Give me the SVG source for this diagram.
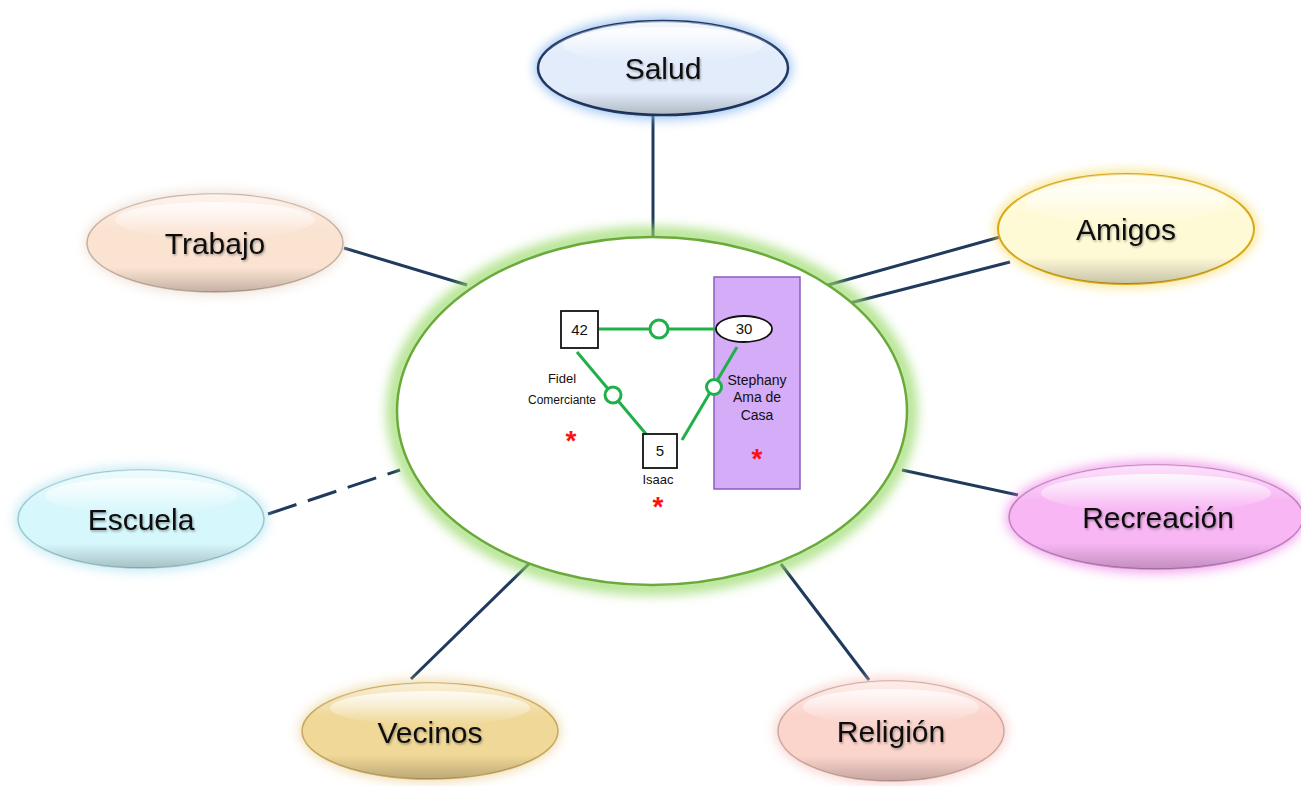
<svg xmlns="http://www.w3.org/2000/svg" width="1301" height="786" viewBox="0 0 1301 786">
<defs>
<filter id="glow" x="-20%" y="-30%" width="140%" height="160%"><feGaussianBlur stdDeviation="6"/></filter>
<filter id="ts" x="-10%" y="-10%" width="120%" height="130%"><feDropShadow dx="1" dy="1.5" stdDeviation="1" flood-color="#000" flood-opacity="0.35"/></filter>
<linearGradient id="shade" x1="0" y1="0" x2="0" y2="1">
<stop offset="0" stop-color="#fff" stop-opacity="0.6"/>
<stop offset="0.35" stop-color="#fff" stop-opacity="0"/>
<stop offset="0.75" stop-color="#000" stop-opacity="0"/>
<stop offset="1" stop-color="#000" stop-opacity="0.22"/>
</linearGradient>
<linearGradient id="hl" x1="0" y1="0" x2="0" y2="1">
<stop offset="0" stop-color="#fff" stop-opacity="0.8"/>
<stop offset="1" stop-color="#fff" stop-opacity="0"/>
</linearGradient>
</defs>
<style>
.lbl{font-family:"Liberation Sans",Arial,sans-serif;font-size:30px;fill:#111;text-anchor:middle}
.con{stroke:#1f3a5c;stroke-width:3;fill:none}
.g{stroke:#1fb04a;stroke-width:3;fill:none}
.gc{stroke:#1fb04a;stroke-width:3;fill:#fff}
.sm{font-family:"Liberation Sans",Arial,sans-serif;fill:#111;text-anchor:middle}
.ast{font-family:"Liberation Sans",Arial,sans-serif;font-size:28px;fill:#ff1010;text-anchor:middle;font-weight:bold}
.sh{fill:url(#shade)}
.hl{fill:url(#hl)}
</style>
<rect width="1301" height="786" fill="#fff"/>

<g id="connectors">
<line class="con" x1="653" y1="115" x2="653" y2="237"/>
<line class="con" x1="344" y1="248" x2="467" y2="285"/>
<line class="con" x1="828" y1="285" x2="1000" y2="237"/>
<line class="con" x1="850" y1="303" x2="1010" y2="262"/>
<line class="con" x1="268" y1="514" x2="400" y2="470" stroke-dasharray="30,12"/>
<line class="con" x1="902" y1="470" x2="1018" y2="495"/>
<line class="con" x1="411" y1="679" x2="537" y2="556"/>
<line class="con" x1="781" y1="564" x2="869" y2="680"/>
</g>

<g id="center">
<ellipse cx="652" cy="411" rx="258" ry="177" fill="none" stroke="#9ada6a" stroke-width="14" opacity="0.8" filter="url(#glow)"/>
<ellipse cx="652" cy="411" rx="255" ry="174" fill="#fff" stroke="#6aaa3a" stroke-width="2.5"/>
</g>

<g id="genogram">
<rect x="714" y="277" width="86" height="212" fill="#d4acf7" stroke="#8a5cc0" stroke-width="1.5"/>
<line class="g" x1="599" y1="329" x2="716" y2="329"/>
<line class="g" x1="577" y1="352" x2="646" y2="434"/>
<line class="g" x1="737" y1="347" x2="682" y2="440"/>
<circle class="gc" cx="659" cy="329" r="9"/>
<circle class="gc" cx="613" cy="395" r="8"/>
<circle class="gc" cx="714" cy="387" r="7.5"/>
<rect x="561" y="311" width="37" height="37" fill="#fff" stroke="#111" stroke-width="1.8"/>
<text class="sm" x="579.5" y="335" font-size="15">42</text>
<ellipse cx="744" cy="329" rx="28" ry="13" fill="#fff" stroke="#111" stroke-width="1.8"/>
<text class="sm" x="744" y="334" font-size="15">30</text>
<rect x="643" y="434" width="34" height="34" fill="#fff" stroke="#111" stroke-width="1.8"/>
<text class="sm" x="660" y="456" font-size="15">5</text>
<text class="sm" x="562" y="383" font-size="13">Fidel</text>
<text class="sm" x="562" y="404" font-size="12">Comerciante</text>
<text class="sm" x="658" y="484" font-size="13">Isaac</text>
<text class="sm" x="757" y="385" font-size="14">Stephany</text>
<text class="sm" x="757" y="402" font-size="14">Ama de</text>
<text class="sm" x="757" y="420" font-size="14">Casa</text>
<text class="ast" x="571" y="450">*</text>
<text class="ast" x="658" y="516">*</text>
<text class="ast" x="757" y="468">*</text>
</g>

<g id="salud">
<ellipse cx="663" cy="68" rx="128" ry="51" fill="#7fb2ec" opacity="0.8" filter="url(#glow)"/>
<ellipse cx="663" cy="68" rx="125" ry="47" fill="#e2ecfb" stroke="#1f3864" stroke-width="2.5"/>
<ellipse cx="663" cy="68" rx="125" ry="47" class="sh"/>
<ellipse cx="663" cy="45" rx="100" ry="18" class="hl"/>
<text class="lbl" x="663" y="79" filter="url(#ts)">Salud</text>
</g>

<g id="trabajo">
<ellipse cx="215" cy="243" rx="130" ry="52" fill="#e8d6c8" opacity="0.7" filter="url(#glow)"/>
<ellipse cx="215" cy="243" rx="128" ry="49" fill="#fbe3d2" stroke="#c8b0a0" stroke-width="1.5"/>
<ellipse cx="215" cy="243" rx="128" ry="49" class="sh"/>
<ellipse cx="215" cy="220" rx="100" ry="18" class="hl"/>
<text class="lbl" x="215" y="254" filter="url(#ts)">Trabajo</text>
</g>

<g id="amigos">
<ellipse cx="1126" cy="229" rx="131" ry="58" fill="#f5dc6a" opacity="0.8" filter="url(#glow)"/>
<ellipse cx="1126" cy="229" rx="128" ry="55" fill="#fffad6" stroke="#d8a818" stroke-width="2"/>
<ellipse cx="1126" cy="229" rx="128" ry="55" class="sh"/>
<ellipse cx="1126" cy="203" rx="100" ry="20" class="hl"/>
<text class="lbl" x="1126" y="240" filter="url(#ts)">Amigos</text>
</g>

<g id="escuela">
<ellipse cx="141" cy="519" rx="126" ry="52" fill="#a8e0ee" opacity="0.7" filter="url(#glow)"/>
<ellipse cx="141" cy="519" rx="123" ry="49" fill="#d6f7fc" stroke="#9cc8d0" stroke-width="1.5"/>
<ellipse cx="141" cy="519" rx="123" ry="49" class="sh"/>
<ellipse cx="141" cy="496" rx="96" ry="18" class="hl"/>
<text class="lbl" x="141" y="530" filter="url(#ts)">Escuela</text>
</g>

<g id="recreacion">
<ellipse cx="1156" cy="517" rx="150" ry="56" fill="#f08ce8" opacity="0.8" filter="url(#glow)"/>
<ellipse cx="1156" cy="517" rx="147" ry="52" fill="#f8b6f4" stroke="#c080c0" stroke-width="1.5"/>
<ellipse cx="1156" cy="517" rx="147" ry="52" class="sh"/>
<ellipse cx="1156" cy="493" rx="115" ry="19" class="hl"/>
<text class="lbl" x="1158" y="528" filter="url(#ts)">Recreación</text>
</g>

<g id="vecinos">
<ellipse cx="430" cy="731" rx="130" ry="51" fill="#e8cc88" opacity="0.7" filter="url(#glow)"/>
<ellipse cx="430" cy="731" rx="128" ry="48" fill="#f0d898" stroke="#c8a860" stroke-width="1.5"/>
<ellipse cx="430" cy="731" rx="128" ry="48" class="sh"/>
<ellipse cx="430" cy="708" rx="100" ry="17" class="hl"/>
<text class="lbl" x="430" y="743" filter="url(#ts)">Vecinos</text>
</g>

<g id="religion">
<ellipse cx="891" cy="731" rx="116" ry="53" fill="#f4c0b8" opacity="0.7" filter="url(#glow)"/>
<ellipse cx="891" cy="731" rx="113" ry="50" fill="#fbd4cc" stroke="#d0a8a0" stroke-width="1.5"/>
<ellipse cx="891" cy="731" rx="113" ry="50" class="sh"/>
<ellipse cx="891" cy="707" rx="88" ry="18" class="hl"/>
<text class="lbl" x="891" y="742" filter="url(#ts)">Religión</text>
</g>
</svg>
